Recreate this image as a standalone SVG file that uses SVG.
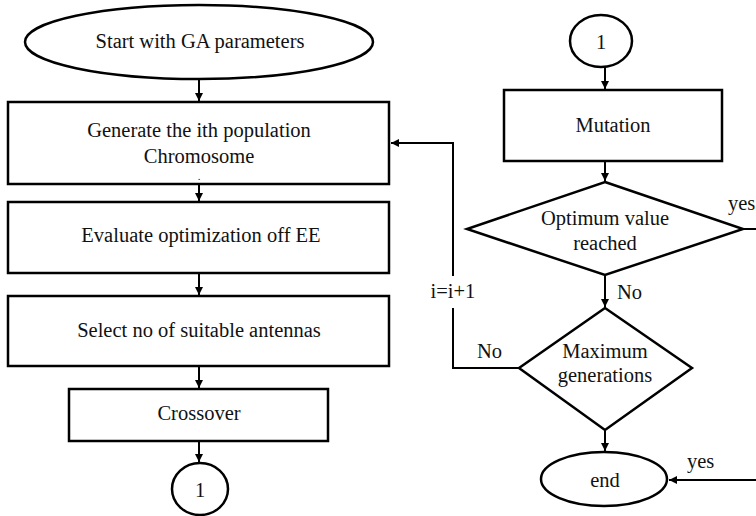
<svg xmlns="http://www.w3.org/2000/svg" width="756" height="516" viewBox="0 0 756 516">
<style>
.s{fill:#fff;stroke:#000;stroke-width:2.5}
.c{fill:none;stroke:#000;stroke-width:2}
text{font-family:"Liberation Serif","DejaVu Serif","Times New Roman",serif;font-size:20.5px;fill:#111;text-anchor:middle}
.l{text-anchor:start}
</style>
<defs>
<marker id="a" viewBox="0 0 10 10" refX="10" refY="5" markerWidth="4" markerHeight="4" orient="auto" markerUnits="strokeWidth">
<path d="M0,0 L10,5 L0,10 Z" fill="#000"/>
</marker>
</defs>
<rect width="756" height="516" fill="#fff"/>
<g id="connectors" font-family="Liberation Serif, serif">
<line class="c" x1="199" y1="80" x2="199" y2="101" marker-end="url(#a)"/>
<line class="c" x1="199" y1="185" x2="199" y2="201" marker-end="url(#a)"/>
<line class="c" x1="199" y1="274" x2="199" y2="295" marker-end="url(#a)"/>
<line class="c" x1="199" y1="367" x2="199" y2="388" marker-end="url(#a)"/>
<line class="c" x1="199" y1="442" x2="199" y2="462" marker-end="url(#a)"/>
<line class="c" x1="605" y1="67" x2="605" y2="89" marker-end="url(#a)"/>
<line class="c" x1="605" y1="162" x2="605" y2="181" marker-end="url(#a)"/>
<line class="c" x1="605" y1="276" x2="605" y2="307" marker-end="url(#a)"/>
<line class="c" x1="605" y1="431" x2="605" y2="451" marker-end="url(#a)"/>
<polyline class="c" points="519,368 453,368 453,308"/>
<polyline class="c" points="453,276 453,143 391,143" marker-end="url(#a)"/>
<line class="c" x1="743" y1="229" x2="756" y2="229"/>
<line class="c" x1="756" y1="480" x2="669" y2="480" marker-end="url(#a)"/>
<text x="453" y="298">i=i+1</text>
<text class="l" x="617" y="299">No</text>
<text class="l" x="477" y="358">No</text>
<text class="l" x="728" y="210">yes</text>
<text class="l" x="687" y="468">yes</text>
</g>
<g id="start">
<ellipse class="s" cx="199" cy="42" rx="174" ry="37"/>
<text x="200" y="48">Start with GA parameters</text>
</g>
<g id="generate">
<rect class="s" x="8" y="102" width="381" height="82"/>
<text x="199" y="137">Generate the ith population</text>
<text x="199" y="163">Chromosome</text>
<text x="199" y="180" style="font-size:11px">.</text>
</g>
<g id="evaluate">
<rect class="s" x="8" y="202" width="381" height="71"/>
<text x="201" y="242">Evaluate optimization off EE</text>
</g>
<g id="select">
<rect class="s" x="8" y="296" width="381" height="70"/>
<text x="199" y="337">Select no of suitable antennas</text>
</g>
<g id="crossover">
<rect class="s" x="69" y="389" width="259" height="52"/>
<text x="199" y="420">Crossover</text>
</g>
<g id="conn1a">
<ellipse class="s" cx="200" cy="489" rx="28" ry="26"/>
<text x="200" y="497">1</text>
</g>
<g id="conn1b">
<ellipse class="s" cx="601" cy="41" rx="31" ry="26"/>
<text x="601" y="49">1</text>
</g>
<g id="mutation">
<rect class="s" x="504" y="90" width="218" height="71"/>
<text x="613" y="132">Mutation</text>
</g>
<g id="optimum">
<polygon class="s" points="605,182 743,229 605,275 467,229"/>
<text x="605" y="225">Optimum value</text>
<text x="605" y="250">reached</text>
</g>
<g id="maxgen">
<polygon class="s" points="605,308 692,368 605,430 519,368"/>
<text x="605" y="358">Maximum</text>
<text x="605" y="382">generations</text>
</g>
<g id="end">
<ellipse class="s" cx="604" cy="479" rx="63" ry="27"/>
<text x="605" y="487">end</text>
</g>
</svg>
